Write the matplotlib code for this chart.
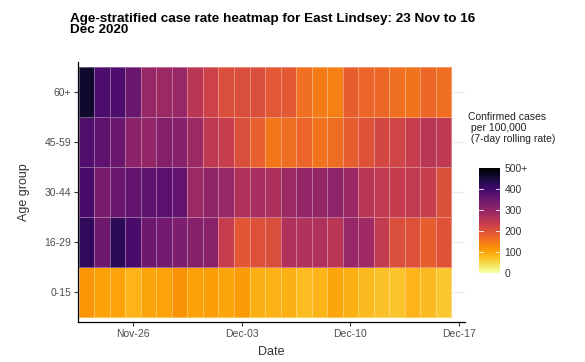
import numpy as np
import pandas as pd
import matplotlib
matplotlib.use("Agg")
import matplotlib.pyplot as plt
import matplotlib.dates as mdates
from matplotlib.colors import Normalize

plt.rcParams["font.family"] = ["Liberation Sans", "DejaVu Sans"]

# Data (rate per 100,000, 7-day rolling)
dates = pd.date_range("2020-11-23", "2020-12-16", freq="D")
age_groups = ["0-15", "16-29", "30-44", "45-59", "60+"]

rate_0_15 = [115, 105, 103, 85, 100, 103, 118, 105, 106, 98, 110, 88,
             86, 88, 78, 85, 98, 88, 80, 72, 70, 85, 80, 65]
rate_16_29 = [420, 345, 425, 390, 345, 340, 330, 318, 312, 235, 192, 200,
              205, 265, 262, 265, 250, 295, 285, 240, 205, 200, 180, 198]
rate_30_44 = [390, 335, 350, 360, 365, 370, 360, 290, 305, 295, 265, 275,
              268, 290, 298, 298, 308, 292, 250, 243, 237, 242, 233, 203]
rate_45_59 = [380, 365, 350, 310, 300, 320, 315, 290, 245, 235, 205, 178,
              152, 163, 172, 155, 163, 180, 198, 215, 220, 235, 250, 245]
rate_60_plus = [460, 385, 385, 350, 295, 290, 295, 250, 225, 205, 205, 205,
                190, 188, 160, 145, 140, 180, 170, 168, 160, 155, 168, 162]

rates = np.array([rate_0_15, rate_16_29, rate_30_44, rate_45_59, rate_60_plus])

fig = plt.figure(figsize=(5.85, 3.62), dpi=100)
ax = fig.add_axes([0.1333, 0.1105, 0.6617, 0.7182])

# cell edges: each tile centred on its date
x_num = mdates.date2num(dates)
x_edges = np.append(x_num - 0.5, x_num[-1] + 0.5)
y_edges = np.arange(len(age_groups) + 1) - 0.5

# light horizontal grid behind the tiles (only visible past the last tile)
for i in range(len(age_groups)):
    ax.axhline(i, color="#ebebeb", lw=0.8, zorder=0)

cmap = plt.get_cmap("inferno_r")
norm = Normalize(vmin=0, vmax=500, clip=True)
mesh = ax.pcolormesh(x_edges, y_edges, rates, cmap=cmap, norm=norm,
                     edgecolor=(1, 1, 1, 0.35), linewidth=0.6, zorder=1)

ax.set_xlim(x_num[0] - 0.56, x_num[-1] + 1.4)
ax.set_ylim(-0.6, len(age_groups) - 0.4)

ax.xaxis.set_major_locator(mdates.DayLocator(bymonthday=[26, 3, 10, 17]))
ax.xaxis.set_major_formatter(mdates.DateFormatter("%b-%d"))
ax.set_yticks(range(len(age_groups)))
ax.set_yticklabels(age_groups)

for side in ["top", "right"]:
    ax.spines[side].set_visible(False)
for side in ["left", "bottom"]:
    ax.spines[side].set_color("black")
    ax.spines[side].set_linewidth(0.9)
ax.tick_params(axis="both", labelsize=7.5, labelcolor="#4d4d4d",
               length=3, width=0.8, color="#333333", pad=2)

ax.set_xlabel("Date", fontsize=9, color="#333333", labelpad=5)
ax.set_ylabel("Age group", fontsize=9, color="#333333", labelpad=10)

fig.text(0.12, 0.963, "Age-stratified case rate heatmap for East Lindsey: 23 Nov to 16\nDec 2020",
         fontsize=9.7, fontweight="bold", ha="left", va="top", linespacing=0.9)

# colour bar legend
cax = fig.add_axes([0.819, 0.246, 0.036, 0.290])
cb = fig.colorbar(mesh, cax=cax, ticks=[0, 100, 200, 300, 400, 500])
cb.ax.set_yticklabels(["0", "100", "200", "300", "400", "500+"])
cb.outline.set_visible(False)
cb.ax.tick_params(labelsize=7.5, labelcolor="#333333", length=0, pad=3)
for v in [100, 200, 300, 400]:
    cax.plot([0, 0.2], [v, v], color="white", lw=0.6, transform=cax.get_yaxis_transform())
    cax.plot([0.8, 1.0], [v, v], color="white", lw=0.6, transform=cax.get_yaxis_transform())

fig.text(0.8, 0.69, "Confirmed cases\n per 100,000\n (7-day rolling rate)",
         fontsize=7.5, ha="left", va="top", color="#222222", linespacing=1.1)

fig.savefig("out.png", dpi=100)
